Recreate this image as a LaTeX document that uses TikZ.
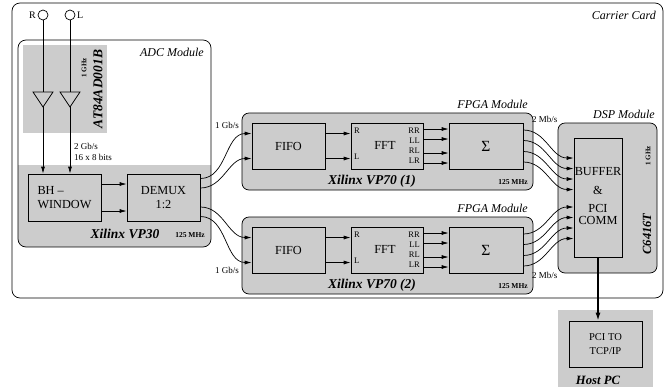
\documentclass[tikz,border=0pt]{standalone}
\usepackage{fontspec}
\setmainfont{Liberation Serif}
\usetikzlibrary{arrows.meta,calc}
\newcommand\myfs[2]{\fontsize{#1}{#2}\selectfont}
\begin{document}
\begin{tikzpicture}[x=1pt,y=-1pt,
 wire/.style={line width=0.7pt},
 blk/.style={draw, line width=0.7pt, fill=black!20, inner sep=0pt, font=\myfs{12.3}{14}},
 module/.style={draw, line width=0.7pt, rounded corners=7pt, fill=black!20, inner sep=0pt},
 arr/.style={line width=0.7pt, -{Latex[length=7pt,width=4pt]}},
 small/.style={font=\myfs{9}{10}, inner sep=0pt},
 port/.style={font=\myfs{8.5}{9}, inner sep=0pt},
 modlbl/.style={font=\myfs{12}{13}\itshape, inner sep=0pt},
 chip/.style={font=\myfs{13.5}{14}\bfseries\itshape, inner sep=0pt},
 clk/.style={font=\myfs{7.5}{8}\bfseries, inner sep=0pt},
]
\useasboundingbox (0,0) rectangle (670,389);

% carrier card
\node[draw, line width=0.7pt, rounded corners=8pt, minimum width=651pt, minimum height=295pt, inner sep=0pt] (carrier) at (337.5,150.5) {};
\node[modlbl, anchor=east] (carrierlbl) at (656,15) {Carrier Card};

% ADC module
\begin{scope}
\clip[rounded corners=8pt] (18,40) rectangle (211,247);
\fill[black!20] (18,165) rectangle (211,247);
\end{scope}
\fill[black!20] (23,45) rectangle (107,133);
\node[draw, line width=0.7pt, rounded corners=8pt, minimum width=193pt, minimum height=207pt, inner sep=0pt] (adc) at (114.5,143.5) {};
\node[modlbl, anchor=east] (adclbl) at (204,52) {ADC Module};
\node[chip, rotate=90] (at84) at (98,89) {AT84AD001B};
\node[clk, font=\myfs{7}{7}\bfseries, rotate=90] (adcclk) at (84,68) {1 GHz};

% inputs
\node[draw, circle, line width=0.7pt, minimum size=10pt, inner sep=0pt] (inR) at (43,15) {};
\node[draw, circle, line width=0.7pt, minimum size=10pt, inner sep=0pt] (inL) at (70,15) {};
\node[font=\myfs{10}{11}, anchor=east, inner sep=0pt] (labR) at (36,15) {R};
\node[font=\myfs{10}{11}, anchor=west, inner sep=0pt] (labL) at (77,15) {L};

% BH window and demux
\node[blk, minimum width=73pt, minimum height=47pt, align=left] (bh) at (64.5,197.5) {BH --\\WINDOW};
\node[blk, minimum width=73pt, minimum height=47pt, align=center] (demux) at (163.5,197.5) {DEMUX\\1:2};

\draw[arr] (inR.south) -- (inR.south |- bh.north);
\draw[arr] (inL.south) -- (inL.south |- bh.north);
\draw[wire, fill=black!20] (33,92) -- (53,92) -- (43,107) -- cycle;
\draw[wire, fill=black!20] (60,92) -- (80,92) -- (70,107) -- cycle;

\node[small, anchor=west] (gbs) at (74,146) {2 Gb/s};
\node[small, anchor=west] (bits) at (74,157) {16 x 8 bits};

\draw[arr] ($(bh.east)+(0,-13.5)$) -- ($(demux.west)+(0,-13.5)$);
\draw[arr] ($(bh.east)+(0,13.5)$) -- ($(demux.west)+(0,13.5)$);

\node[chip] (vp30) at (125,234) {Xilinx VP30};
\node[clk] (vp30clk) at (190,235) {125 MHz};

% FPGA modules
\foreach \i/\cy in {1/146, 2/250} {
  \node[module, minimum width=291pt, minimum height=77pt] (fpga\i) at (387.5,\cy+5.5) {};
  \node[blk, minimum width=73pt, minimum height=46pt] (fifo\i) at (288.5,\cy) {FIFO};
  \node[blk, minimum width=72pt, minimum height=46pt] (fft\i) at (387,\cy) {};
  \node[font=\myfs{12.3}{14}, inner sep=0pt] (fftt\i) at (385,\cy-1) {FFT};
  \node[blk, minimum width=74pt, minimum height=46pt, font=\myfs{15.5}{16}] (sig\i) at (486,\cy) {Σ};
  \node[port, anchor=west] (pR\i) at (354,\cy-15) {R};
  \node[port, anchor=west] (pL\i) at (354,\cy+11) {L};
  \node[port, anchor=east] (pRR\i) at (420,\cy-15) {RR};
  \node[port, anchor=east] (pLL\i) at (420,\cy-5.5) {LL};
  \node[port, anchor=east] (pRL\i) at (420,\cy+4.5) {RL};
  \node[port, anchor=east] (pLR\i) at (420,\cy+15) {LR};
  \node[modlbl, anchor=east] (fpgalbl\i) at (528,\cy-42) {FPGA Module};
  \node[chip] (vp70\i) at (372,\cy+35) {Xilinx VP70 (\i)};
  \node[clk] (vp70clk\i) at (513,\cy+36) {125 MHz};
  \draw[arr] ($(fifo\i.east)+(0,-12.5)$) -- ($(fft\i.west)+(0,-12.5)$);
  \draw[arr] ($(fifo\i.east)+(0,12.5)$) -- ($(fft\i.west)+(0,12.5)$);
  \foreach \o in {-17,-7,7,17}
    \draw[arr] ($(fft\i.east)+(0,\o)$) -- ($(sig\i.west)+(0,\o)$);
}

\node[small, anchor=west] (gb1) at (215,125) {1 Gb/s};
\node[small, anchor=west] (gb2) at (215,270) {1 Gb/s};
\node[small, anchor=west] (mb1) at (532,119) {2 Mb/s};
\node[small, anchor=west] (mb2) at (532,275) {2 Mb/s};

% demux to fifo
\draw[arr] ($(demux.east)+(0,-19)$) to[out=0,in=180] ($(fifo1.west)+(0,-12.5)$);
\draw[arr] ($(demux.east)+(0,-9.5)$) to[out=0,in=180] ($(fifo1.west)+(0,12.5)$);
\draw[arr] ($(demux.east)+(0,9.5)$) to[out=0,in=180] ($(fifo2.west)+(0,-12.5)$);
\draw[arr] ($(demux.east)+(0,19)$) to[out=0,in=180] ($(fifo2.west)+(0,12.5)$);

% DSP module
\node[module, minimum width=99pt, minimum height=150pt] (dsp) at (607.5,198) {};
\node[modlbl, anchor=east] (dsplbl) at (655,114) {DSP Module};
\node[blk, minimum width=48pt, minimum height=119pt] (buf) at (598,197.5) {};
\node[font=\myfs{12.3}{14}, inner sep=0pt] (tb1) at (598,172) {BUFFER};
\node[font=\myfs{12.3}{14}, inner sep=0pt] (tb2) at (598,190) {\&};
\node[font=\myfs{12.3}{14}, inner sep=0pt] (tb3) at (598,208) {PCI};
\node[font=\myfs{12.3}{14}, inner sep=0pt] (tb4) at (598,220) {COMM};
\node[clk, font=\myfs{7}{7}\bfseries, rotate=90] (dspclk) at (648,156) {1 GHz};
\node[chip, font=\myfs{12.5}{13}\bfseries\itshape, rotate=90] (c6416) at (647,234) {C6416T};

\foreach \a/\b in {-16/-39.5, -5.5/-29, 5.5/-18.5, 16/-8}
  \draw[arr] ($(sig1.east)+(0,\a)$) to[out=0,in=180] ($(buf.west)+(0,\b)$);
\foreach \a/\b in {-16/9.5, -5.5/20, 5.5/30.5, 16/41}
  \draw[arr] ($(sig2.east)+(0,\a)$) to[out=0,in=180] ($(buf.west)+(0,\b)$);

% Host PC
\node[fill=black!20, minimum width=95pt, minimum height=77pt, inner sep=0pt] (host) at (605.5,348.5) {};
\node[blk, minimum width=73pt, minimum height=46pt, align=center, font=\myfs{10.5}{14}] (pci) at (605.5,344) {PCI TO\\TCP/IP};
\node[font=\myfs{12.7}{13}\bfseries\itshape, inner sep=0pt] (hostlbl) at (598,380) {Host PC};
\draw[line width=1.4pt, -{Latex[length=8pt,width=5pt]}] (buf.south) -- (buf.south |- pci.north);
\end{tikzpicture}
\end{document}
